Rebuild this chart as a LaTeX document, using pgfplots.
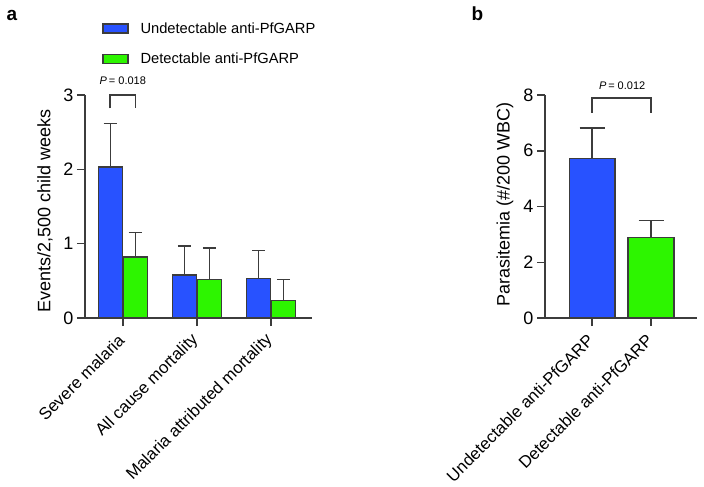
\documentclass[border=0pt]{standalone}
\usepackage{pgfplots}
\pgfplotsset{compat=1.18}
\usepackage{pgfplotstable}
\usepackage{fontspec}
\setmainfont{Liberation Sans}
\definecolor{barblue}{RGB}{40,82,255}
\definecolor{bargreen}{RGB}{45,245,0}
\definecolor{linegray}{RGB}{60,60,60}
\newcommand\fs[1]{\fontsize{#1bp}{#1bp}\selectfont}

\pgfplotstableread{
x b be g ge
0 2.03 0.59 0.82 0.33
1 0.58 0.39 0.52 0.42
2 0.53 0.38 0.24 0.28
}\tabA
\pgfplotstableread{
x y e
0 5.72 1.10
}\tabBu
\pgfplotstableread{
x y e
1 2.89 0.60
}\tabBd

\pgfplotsset{
  mystyle/.style={
    scale only axis,
    axis x line*=bottom,
    axis y line*=left,
    axis line style={linegray, line width=1.5bp, -},
    tick style={linegray, line width=1.5bp},
    tick align=outside,
    major tick length=8bp,
    minor tick num=0,
    ymin=0,
    clip=false,
    /pgf/number format/assume math mode=true,
    yticklabel style={font=\fs{18}},
    xticklabel style={yshift=-9bp, xshift=1bp, rotate=45, anchor=east, font=\fs{16.8}},
    ylabel style={font=\fs{18}},
    ybar,
  },
  barstyle/.style={draw=linegray, line width=1.3bp},
  errA/.style={error bars/.cd, y dir=plus, y explicit, error mark=|,
    error bar style={linegray, line width=1.5bp},
    error mark options={linegray, line width=1.5bp, mark size=6.7bp}},
  errB/.style={error bars/.cd, y dir=plus, y explicit, error mark=|,
    error bar style={linegray, line width=1.5bp},
    error mark options={linegray, line width=1.5bp, mark size=12.5bp}},
}

\begin{document}
\begin{tikzpicture}[x=1bp,y=1bp]
% Panel a
\begin{axis}[mystyle,
  at={(85bp,-318bp)}, anchor=south west,
  width=227bp, height=223bp,
  xmin=-0.51, xmax=2.55, ymax=3,
  xtick={0,1,2},
  xticklabels={Severe malaria, All cause mortality, Malaria attributed mortality},
  ytick={0,1,2,3},
  ylabel={Events/2,500 child weeks},
  ylabel style={at={(axis description cs:-0.176,0.48)}, anchor=center},
  bar width=0.325,
  legend style={at={(axis description cs:0.075,1.335)}, anchor=north west,
    draw=none, fill=none, font=\fs{14.7}, inner sep=0pt, row sep=14bp,
    /tikz/every odd column/.append style={column sep=10bp}},
  legend cell align=left,
  legend image code/.code={\draw[#1, line width=1.3bp] (0bp,-4.5bp) rectangle (25bp,4.5bp);},
]
\addplot[barstyle, fill=barblue, bar shift=-0.168, errA]
  table[x=x, y=b, y error plus=be] {\tabA};
\addlegendentry{Undetectable anti-PfGARP}
\addplot[barstyle, fill=bargreen, bar shift=0.168, errA]
  table[x=x, y=g, y error plus=ge] {\tabA};
\addlegendentry{Detectable anti-PfGARP}
\addplot[sharp plot, linegray, line width=1.5bp, forget plot, bar shift=0]
  coordinates {(-0.17,2.82) (-0.17,3) (0.17,3) (0.17,2.82)};
\node[font=\fs{11}] at (axis cs:0,3.19) {\textit{P}\,= 0.018};
\end{axis}
% Panel b
\begin{axis}[mystyle,
  at={(545bp,-318bp)}, anchor=south west,
  width=152bp, height=223bp,
  xmin=-0.8, xmax=1.78, ymax=8,
  xtick={0,1},
  xticklabels={Undetectable anti-PfGARP, Detectable anti-PfGARP},
  ytick={0,2,4,6,8},
  ylabel={Parasitemia (\#/200 WBC)},
  ylabel style={at={(axis description cs:-0.263,0.507)}, anchor=center},
  bar width=0.78,
]
\addplot[barstyle, fill=barblue, bar shift=0, errB]
  table[x=x, y=y, y error plus=e] {\tabBu};
\addplot[barstyle, fill=bargreen, bar shift=0, errB]
  table[x=x, y=y, y error plus=e] {\tabBd};
\addplot[sharp plot, linegray, line width=1.5bp, bar shift=0]
  coordinates {(0,7.36) (0,7.9) (1,7.9) (1,7.36)};
\node[font=\fs{11}] at (axis cs:0.51,8.32) {\textit{P}\,= 0.012};
\end{axis}
\node[font=\bfseries\fs{19}, anchor=base west] at (3bp,-20bp) {a};
\node[font=\bfseries\fs{19}, anchor=base west] at (468bp,-20bp) {b};
\pgfresetboundingbox
\path[use as bounding box] (0,0) rectangle (704bp,-487bp);
\end{tikzpicture}
\end{document}
